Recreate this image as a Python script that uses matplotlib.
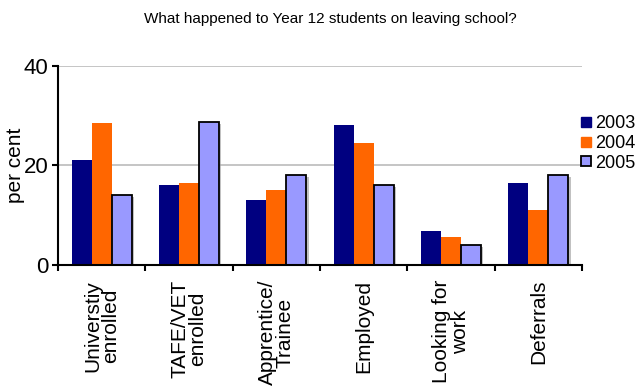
import numpy as np
import matplotlib.pyplot as plt
from matplotlib.lines import Line2D
import matplotlib.patheffects as pe

plt.rcParams['font.family'] = ['Liberation Sans', 'DejaVu Sans']

# Destinations of Year 12 leavers (per cent)
categories = ['Universtiy\nenrolled', 'TAFE/VET\nenrolled', 'Apprentice/\nTrainee',
              'Employed', 'Looking for\nwork', 'Deferrals']
years = ['2003', '2004', '2005']
pct_2003 = [21.0, 16.0, 13.0, 28.2, 6.8, 16.5]
pct_2004 = [28.5, 16.5, 15.0, 24.5, 5.6, 11.0]
pct_2005 = [14.0, 28.8, 18.0, 16.0, 4.0, 18.0]
colors = ['#000080', '#ff6600', '#9999ff']

fig = plt.figure(figsize=(6.42, 3.91), dpi=100)
ax = fig.add_axes([0.0903, 0.323, 0.8162, 0.5082])

x = np.arange(len(categories))
w = 0.23
ax.bar(x - w, pct_2003, w, color=colors[0], zorder=3)
ax.bar(x, pct_2004, w, color=colors[1], zorder=3)
b5 = ax.bar(x + w, pct_2005, w, color=colors[2], edgecolor='black', linewidth=1.3, zorder=3)
for p in b5:
    p.set_path_effects([pe.SimplePatchShadow(offset=(1.5, -1.5), shadow_rgbFace='#999999', alpha=0.6),
                        pe.Normal()])

ax.set_xlim(-0.5, len(categories) - 0.5)
ax.set_ylim(0, 40)
ax.set_yticks([0, 20, 40])
ax.yaxis.grid(True, color='#c0c0c0', linewidth=1.3, zorder=0)
ax.set_axisbelow(True)

for s in ['top', 'right']:
    ax.spines[s].set_visible(False)
for s in ['left', 'bottom']:
    ax.spines[s].set_linewidth(1.5)
    ax.spines[s].set_zorder(4)

ax.tick_params(axis='y', labelsize=16, length=4, width=1.5, pad=3)
ax.set_xticks(x)
ax.set_xticklabels(categories, rotation=90, fontsize=15, va='top', ha='center',
                   multialignment='center', linespacing=0.95)
ax.tick_params(axis='x', which='major', length=0, pad=11)
ax.set_xticks(np.arange(-0.5, len(categories)), minor=True)
ax.tick_params(axis='x', which='minor', length=4, width=1.5)

ax.set_ylabel('per cent', fontsize=15, labelpad=-1)

fig.text(0.514, 0.952, 'What happened to Year 12 students on leaving school?',
         ha='center', va='center', fontsize=11)

handles = [Line2D([], [], marker='s', linestyle='none', markersize=7.5,
                  markerfacecolor=colors[0], markeredgecolor=colors[0]),
           Line2D([], [], marker='s', linestyle='none', markersize=7.5,
                  markerfacecolor=colors[1], markeredgecolor=colors[1]),
           Line2D([], [], marker='s', linestyle='none', markersize=7.5,
                  markerfacecolor=colors[2], markeredgecolor='black', markeredgewidth=1.3)]
fig.legend(handles, years, loc='upper left', bbox_to_anchor=(0.905, 0.705),
           frameon=False, fontsize=13, handlelength=0.6, handletextpad=0.2,
           labelspacing=0.15, borderpad=0, borderaxespad=0)

fig.savefig('out.png', dpi=100)
